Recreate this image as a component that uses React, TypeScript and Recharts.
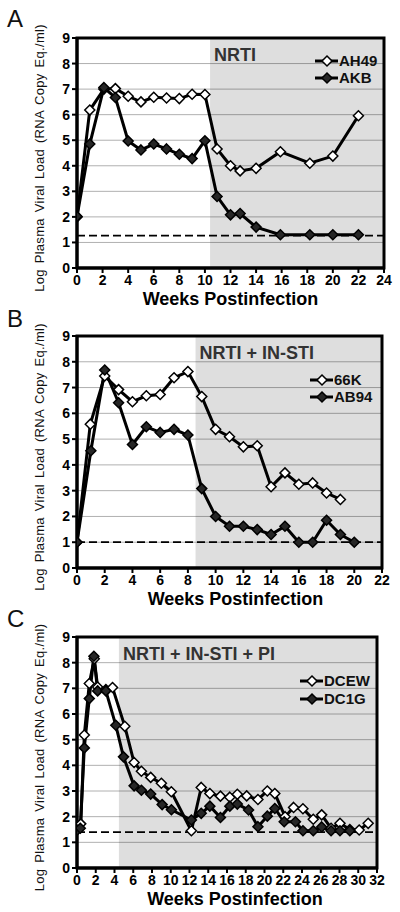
import { LineChart, Line, XAxis, YAxis, ReferenceArea, ReferenceLine, CartesianGrid, Legend } from 'recharts';

const FONT = '"Liberation Sans", Arial, Helvetica, sans-serif';

// ---- Panel A (NRTI) ----
const weeksA = [0, 1, 2.1, 3, 4, 5, 6, 7, 8, 9, 10, 10.95, 12, 12.75, 14, 15.9, 18.2, 20, 22];
const ah49 = [2.0, 6.18, 7.0, 7.02, 6.72, 6.5, 6.68, 6.65, 6.63, 6.8, 6.79, 4.66, 4.0, 3.8, 3.9, 4.55, 4.1, 4.38, 5.96];
const akb = [2.02, 4.85, 7.06, 6.67, 4.97, 4.62, 4.85, 4.66, 4.45, 4.28, 4.98, 2.8, 2.08, 2.13, 1.6, 1.3, 1.3, 1.3, 1.3];
const ticksA = [0, 2, 4, 6, 8, 10, 12, 14, 16, 18, 20, 22, 24];

// ---- Panel B (NRTI + IN-STI) ----
const weeks66K = [0, 0.96, 2, 3, 4, 5, 6, 7, 8, 9, 10, 11, 12, 13, 14, 15, 16, 17, 18, 19];
const k66 = [1.0, 5.58, 7.45, 6.92, 6.45, 6.68, 6.73, 7.38, 7.62, 6.65, 5.38, 5.09, 4.7, 4.74, 3.15, 3.69, 3.25, 3.3, 2.91, 2.66];
const weeksAB94 = [0, 1, 2, 3, 4, 5, 6, 7, 8, 9, 10, 11, 12, 13, 14, 15, 16, 17, 18, 19, 20];
const ab94 = [1.0, 4.55, 7.68, 6.41, 4.79, 5.48, 5.26, 5.38, 5.16, 3.08, 2.0, 1.62, 1.62, 1.49, 1.3, 1.62, 1.0, 1.0, 1.85, 1.3, 1.0];
const ticksB = [0, 2, 4, 6, 8, 10, 12, 14, 16, 18, 20, 22];

// ---- Panel C (NRTI + IN-STI + PI) ----
const weeksDCEW = [0, 0.4, 0.78, 1.31, 1.84, 2.2, 3.08, 3.79, 5.1, 6.09, 6.87, 7.86, 9.0, 10.06, 12.2, 13.25, 14.17, 15.3, 16.3, 17.1, 18.1, 19.3, 20.3, 21.1, 22.2, 23.1, 24.1, 25.2, 26.1, 27.1, 28.05, 29.1, 30.1, 31.06];
const dcew = [1.5, 1.72, 5.18, 7.19, 8.15, 7.05, 6.95, 7.03, 5.52, 4.11, 3.77, 3.53, 3.3, 2.97, 1.45, 3.14, 2.9, 2.8, 2.76, 2.87, 2.81, 2.67, 3.0, 2.9, 2.0, 2.36, 2.31, 1.9, 2.07, 1.55, 1.74, 1.5, 1.48, 1.74];
const weeksDC1G = [0, 0.35, 0.78, 1.31, 1.8, 2.2, 3.08, 4.14, 4.96, 6.09, 6.87, 7.86, 9.08, 10.07, 12.2, 13.25, 14.17, 15.3, 16.3, 17.1, 18.3, 19.3, 20.3, 21.1, 22.1, 23.3, 24.1, 25.2, 26.1, 27.1, 28.05, 29.1];
const dc1g = [1.47, 1.55, 4.68, 6.6, 8.25, 6.9, 6.9, 5.56, 4.33, 3.2, 3.03, 2.88, 2.47, 2.27, 1.87, 2.13, 2.41, 1.97, 2.41, 2.49, 2.26, 1.61, 2.02, 2.32, 1.8, 1.8, 1.45, 1.45, 1.6, 1.45, 1.45, 1.45];
const ticksC = [0, 2, 4, 6, 8, 10, 12, 14, 16, 18, 20, 22, 24, 26, 28, 30, 32];

const yTicks = [0, 1, 2, 3, 4, 5, 6, 7, 8, 9];

const toPoints = (xs: number[], ys: number[]) => xs.map((x, i) => ({ x, y: ys[i] }));

const diamond = (filled: boolean) => (props: any) => {
  const { cx, cy, index } = props;
  if (cx == null || cy == null) return <g key={`d-${index}`} />;
  const r = 5;
  return (
    <polygon
      key={`d-${index}`}
      points={`${cx},${cy - r} ${cx + r},${cy} ${cx},${cy + r} ${cx - r},${cy}`}
      fill={filled ? '#262626' : '#fff'}
      stroke="#000"
      strokeWidth={1.5}
    />
  );
};

type Series = { name: string; filled: boolean; data: { x: number; y: number }[] };

function LegendBox({ items, rowH }: { items: Series[]; rowH: number }) {
  return (
    <div style={{ fontFamily: FONT }}>
      {items.map((s) => (
        <div key={s.name} style={{ display: 'flex', alignItems: 'center', height: rowH }}>
          <svg width={23} height={12} style={{ overflow: 'visible' }}>
            <line x1={0} y1={6} x2={23} y2={6} stroke="#000" strokeWidth={3} />
            <polygon points="12,1 17,6 12,11 7,6" fill={s.filled ? '#262626' : '#fff'} stroke="#000" strokeWidth={1.5} />
          </svg>
          <span style={{ fontSize: 15, fontWeight: 700, color: '#111', marginLeft: 1, lineHeight: `${rowH}px` }}>{s.name}</span>
        </div>
      ))}
    </div>
  );
}

type PanelProps = {
  top: number;
  letter: string;
  series: Series[];
  xMax: number;
  xTicks: number[];
  shadeFrom: number;
  limit: number;
  treatment: string;
  margin: { top: number; right: number };
  legendPos: { top: number; left: number; rowH: number };
  titleDx: number;
};

function Panel(p: PanelProps) {
  return (
    <div style={{ position: 'absolute', left: 0, top: p.top, width: 400, height: 310 }}>
      <div style={{ position: 'absolute', left: 7, top: 7, fontFamily: FONT, fontSize: 24, lineHeight: '24px', color: '#111' }}>
        {p.letter}
      </div>
      <LineChart
        width={400}
        height={310}
        margin={{ top: p.margin.top, right: p.margin.right, bottom: 0, left: 47 }}
        style={{ fontFamily: FONT }}
      >
        <CartesianGrid horizontal vertical={false} stroke="#b0b0b0" strokeWidth={1} />
        <ReferenceArea
          x1={p.shadeFrom}
          x2={p.xMax}
          y1={0}
          y2={9}
          fill="#000"
          fillOpacity={0.13}
          stroke="none"
          label={{
            content: ({ viewBox }: any) => (
              <text x={viewBox.x + 4} y={viewBox.y + 23} fontFamily={FONT} fontSize={18} fontWeight={700} fill="#333">
                {p.treatment}
              </text>
            ),
          }}
        />
        <ReferenceLine y={p.limit} stroke="#000" strokeWidth={1.8} strokeDasharray="8 4" />
        <XAxis
          type="number"
          dataKey="x"
          domain={[0, p.xMax]}
          ticks={p.xTicks}
          allowDataOverflow
          height={42}
          tickSize={5}
          axisLine={{ stroke: '#000', strokeWidth: 3 }}
          tickLine={{ stroke: '#000', strokeWidth: 2 }}
          tick={{ fill: '#000', fontSize: 14, fontWeight: 700, fontFamily: FONT }}
          interval={0}
          label={{
            content: ({ viewBox }: any) => (
              <text
                x={viewBox.x + viewBox.width / 2 + p.titleDx}
                y={viewBox.y + 37}
                textAnchor="middle"
                fontFamily={FONT}
                fontSize={18}
                fontWeight={700}
                fill="#000"
              >
                Weeks Postinfection
              </text>
            ),
          }}
        />
        <YAxis
          type="number"
          domain={[0, 9]}
          ticks={yTicks}
          width={30}
          tickSize={5}
          axisLine={{ stroke: '#000', strokeWidth: 3 }}
          tickLine={{ stroke: '#000', strokeWidth: 2 }}
          tick={{ fill: '#000', fontSize: 14, fontWeight: 700, fontFamily: FONT }}
          interval={0}
          label={{
            content: ({ viewBox }: any) => {
              const cx = viewBox.x - 8;
              const cy = viewBox.y + viewBox.height / 2 + 5;
              return (
                <text
                  x={cx}
                  y={cy}
                  transform={`rotate(-90 ${cx} ${cy})`}
                  textAnchor="middle"
                  dominantBaseline="central"
                  fontFamily={FONT}
                  fontSize={13}
                  letterSpacing={0.3}
                  wordSpacing={2}
                  fill="#111"
                >
                  Log Plasma Viral Load (RNA Copy Eq./ml)
                </text>
              );
            },
          }}
        />
        {p.series.map((s) => (
          <Line
            key={s.name}
            data={s.data}
            dataKey="y"
            name={s.name}
            type="linear"
            stroke="#000"
            strokeWidth={3}
            dot={diamond(s.filled)}
            activeDot={false}
            isAnimationActive={false}
          />
        ))}
        <ReferenceArea x1={0} x2={p.xMax} y1={0} y2={9} fill="none" stroke="#000" strokeWidth={3} />
        <Legend
          layout="vertical"
          align="center"
          verticalAlign="middle"
          wrapperStyle={{ top: p.legendPos.top, left: p.legendPos.left, width: 'auto' }}
          content={() => <LegendBox items={p.series} rowH={p.legendPos.rowH} />}
        />
      </LineChart>
    </div>
  );
}

export default function App() {
  return (
    <div style={{ position: 'absolute', left: 0, top: 0, width: 400, height: 912, background: '#fff' }}>
      <Panel
        top={0}
        letter="A"
        series={[
          { name: 'AH49', filled: false, data: toPoints(weeksA, ah49) },
          { name: 'AKB', filled: true, data: toPoints(weeksA, akb) },
        ]}
        xMax={24}
        xTicks={ticksA}
        shadeFrom={10.4}
        limit={1.27}
        treatment="NRTI"
        margin={{ top: 38, right: 16 }}
        legendPos={{ top: 52, left: 315, rowH: 17 }}
        titleDx={0}
      />
      <Panel
        top={300}
        letter="B"
        series={[
          { name: '66K', filled: false, data: toPoints(weeks66K, k66) },
          { name: 'AB94', filled: true, data: toPoints(weeksAB94, ab94) },
        ]}
        xMax={22}
        xTicks={ticksB}
        shadeFrom={8.55}
        limit={1.0}
        treatment="NRTI + IN-STI"
        margin={{ top: 36, right: 18 }}
        legendPos={{ top: 71, left: 310, rowH: 17 }}
        titleDx={6}
      />
      <Panel
        top={600}
        letter="C"
        series={[
          { name: 'DCEW', filled: false, data: toPoints(weeksDCEW, dcew) },
          { name: 'DC1G', filled: true, data: toPoints(weeksDC1G, dc1g) },
        ]}
        xMax={32}
        xTicks={ticksC}
        shadeFrom={4.47}
        limit={1.4}
        treatment="NRTI + IN-STI + PI"
        margin={{ top: 37, right: 23 }}
        legendPos={{ top: 72, left: 300, rowH: 18 }}
        titleDx={8}
      />
    </div>
  );
}
